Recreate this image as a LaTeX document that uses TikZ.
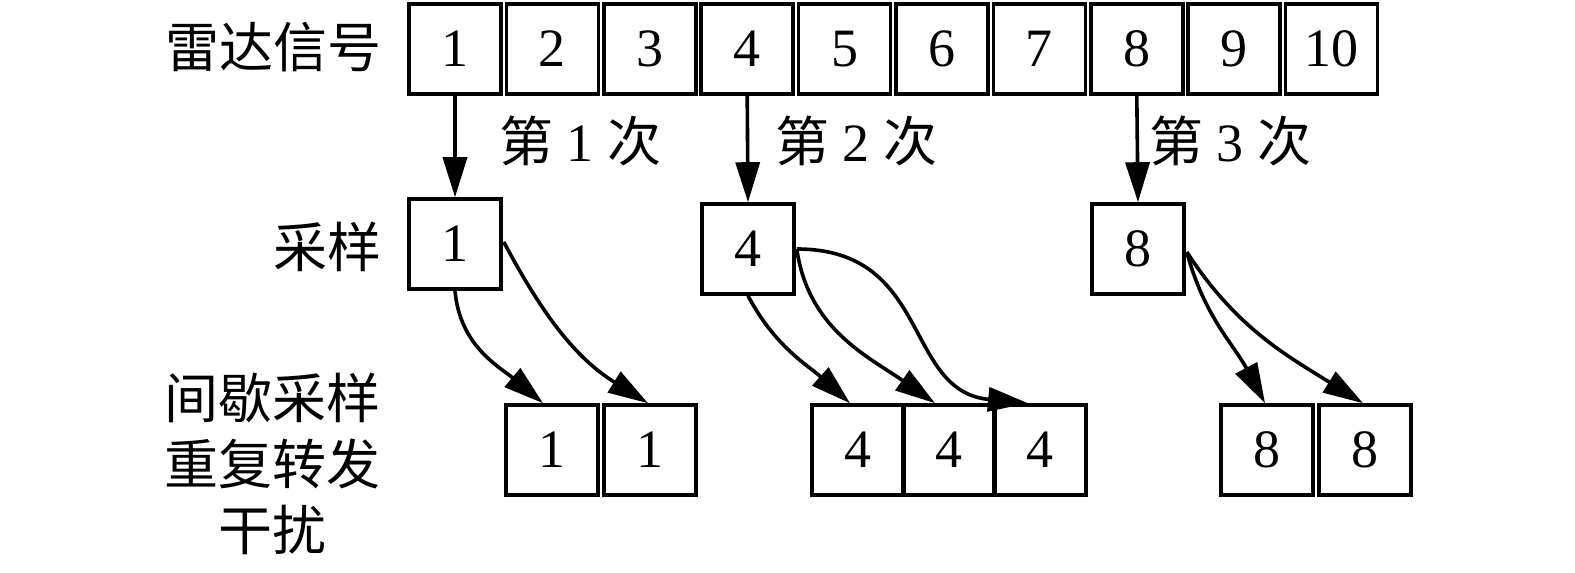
\documentclass[tikz,border=0pt]{standalone}
\usepackage{fontspec}
\setmainfont{Liberation Serif}
\newfontfamily\cjk{Noto Sans CJK SC}
\usetikzlibrary{arrows.meta,calc}
\begin{document}
\begin{tikzpicture}[x=0.5pt,y=-0.5pt,
  font=\fontsize{27}{33}\selectfont,
  box/.style={draw,line width=1.8pt,minimum width=46pt,minimum height=45pt,inner sep=0pt},
  arr/.style={line width=1.8pt,-{Triangle[length=20pt,width=12pt]}},
  lbl/.style={inner sep=0pt}]
\useasboundingbox (0,0) rectangle (1575,573);
% top row
\foreach \i in {1,...,10}{
  \node[box] (t\i) at ({455+97.4*(\i-1)},49) {\i};
}
\node[lbl,anchor=east] (lradar) at (382,47) {\cjk 雷达信号};
% sample boxes
\node[box] (s1) at (455,244) {1};
\node[box] (s4) at (748,249) {4};
\node[box] (s8) at (1138,249) {8};
\node[lbl,anchor=east] (lsamp) at (382,247) {\cjk 采样};
% bottom boxes
\node[box] (b1a) at (552,450) {1};
\node[box] (b1b) at (650,450) {1};
\node[box] (b4a) at (858,450) {4};
\node[box] (b4b) at (949,450) {4};
\node[box] (b4c) at (1040,450) {4};
\node[box] (b8a) at (1267,450) {8};
\node[box] (b8b) at (1365,450) {8};
\node[lbl,align=center] (ljam) at (272,464) {{\cjk 间歇采样}\\[0pt]{\cjk 重复转发}\\[0pt]{\cjk 干扰}};
% labels on arrows
\node[lbl] (l1) at (580,141) {{\cjk 第} 1 {\cjk 次}};
\node[lbl] (l2) at (856,141) {{\cjk 第} 2 {\cjk 次}};
\node[lbl] (l3) at (1230,141) {{\cjk 第} 3 {\cjk 次}};
% vertical arrows
\draw[arr] (t1.south) -- (s1.north);
\draw[arr] (t4.south) -- (s4.north);
\draw[arr] (t8.south) -- (s8.north);
% end points
\coordinate (e1a) at ($(b1a.north)+(-9,0)$);
\coordinate (e1b) at ($(b1b.north)+(-2,0)$);
\coordinate (e4a) at ($(b4a.north)+(-8,0)$);
\coordinate (e4b) at ($(b4b.north)+(-14,0)$);
\coordinate (e4c) at ($(b4c.north)+(-12,0)$);
\coordinate (e8a) at ($(b8a.north)+(-2,0)$);
\coordinate (e8b) at ($(b8b.north)+(-2,0)$);
\coordinate (st1) at ($(s1.east)+(1,-2)$);
\coordinate (st4) at ($(s4.east)+(1,0)$);
\coordinate (st8) at ($(s8.east)+(1,3)$);
% curves
\draw[arr] (s1.south) to[out=-85,in=140] (e1a);
\draw[arr] (st1) to[out=-62,in=148] (e1b);
\draw[arr] (s4.south) to[out=-62,in=138] (e4a);
\draw[arr] (st4) to[out=-82,in=145] (e4b);
\draw[arr] (st4) .. controls +(135,0) and ($(e4c)+(-125,-12)$) .. (e4c);
\draw[arr] (st8) to[out=-75,in=118] (e8a);
\draw[arr] (st8) to[out=-57,in=148] (e8b);
\end{tikzpicture}
\end{document}
